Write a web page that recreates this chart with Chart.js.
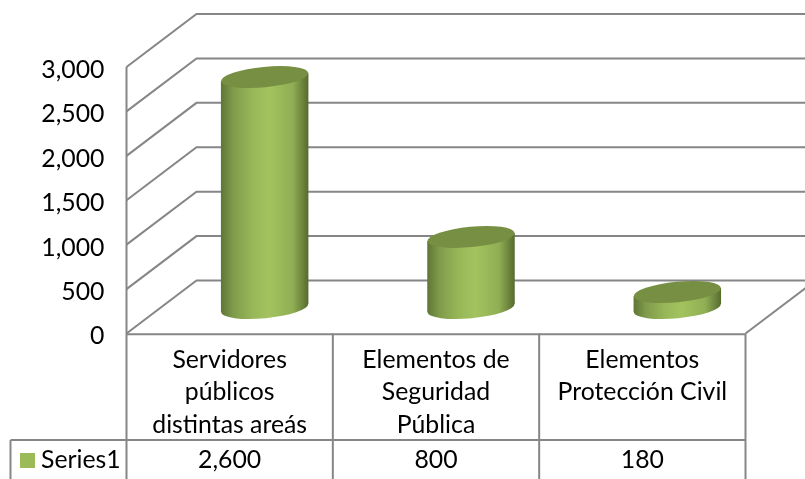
<!DOCTYPE html>
<html><head><meta charset="utf-8">
<style>html,body{margin:0;padding:0;background:#fff}canvas{display:block}</style>
<script src="https://cdn.jsdelivr.net/npm/chart.js@4"></script>
</head><body>
<canvas id="c" width="805" height="479"></canvas>
<script>
const categories = [["Servidores","públicos","distintas areás"],["Elementos de","Seguridad","Pública"],["Elementos","Protección Civil"]];
const seriesName = "Series1";
const seriesValues = [2600, 800, 180];
const yMax = 3000, yStep = 500;

const GRID = "#868686", FONT = "Lato, Carlito, sans-serif", FS = 24.8;
const DX = 70, DY = -53;           // wall depth offset
const CX = 35, CY = -25.5;         // cylinder placement inside the floor depth
const fmt = v => v.toLocaleString("en-US");

const walls = {
  id: "walls",
  beforeDatasetsDraw(ch) {
    const c = ch.ctx, y = ch.scales.y, a = ch.chartArea;
    c.save();
    c.strokeStyle = GRID; c.lineWidth = 2; c.lineJoin = "miter";
    y.ticks.forEach(t => {
      const py = y.getPixelForValue(t.value);
      c.beginPath();
      c.moveTo(a.left, py); c.lineTo(a.left + DX, py + DY); c.lineTo(ch.width + 20, py + DY);
      c.stroke();
    });
    const by = y.getPixelForValue(0);
    c.beginPath(); c.moveTo(a.right, by); c.lineTo(a.right + DX, by + DY); c.stroke();
    c.restore();
  }
};

const cylinders = {
  id: "cylinders",
  beforeDatasetDraw(ch, args) {
    const c = ch.ctx, bars = ch.getDatasetMeta(args.index).data;
    const rot = -5.5 * Math.PI / 180, ry = 10.2, tilt = 4;
    bars.forEach(b => {
      const rx = b.width / 2, cx = b.x + CX, top = b.y + CY, bot = b.base + CY;
      const g = c.createLinearGradient(cx - rx, 0, cx + rx, 0);
      g.addColorStop(0, "#5f7635"); g.addColorStop(0.14, "#7f9b4b");
      g.addColorStop(0.35, "#97b657"); g.addColorStop(0.55, "#a3c35f");
      g.addColorStop(0.82, "#90ae54"); g.addColorStop(1, "#566b2e");
      c.save();
      c.fillStyle = g;
      c.beginPath();
      c.moveTo(cx - rx, top + tilt); c.lineTo(cx + rx, top - tilt);
      c.lineTo(cx + rx, bot - tilt); c.lineTo(cx - rx, bot + tilt);
      c.closePath();
      c.fill();
      c.beginPath(); c.ellipse(cx, bot, rx, ry, rot, 0, Math.PI * 2); c.fill();
      c.fillStyle = "#768f42";
      c.beginPath(); c.ellipse(cx, top, rx, ry, rot, 0, Math.PI * 2); c.fill();
      c.restore();
    });
    return false;
  }
};

const dataTable = {
  id: "dataTable",
  afterDraw(ch) {
    const c = ch.ctx, x = ch.scales.x, a = ch.chartArea, H = ch.height;
    const rowY = 440, left = 10.5, n = categories.length;
    const w = (a.right - a.left) / n;
    c.save();
    c.strokeStyle = GRID; c.lineWidth = 2;
    const line = (x0, y0, x1, y1) => { c.beginPath(); c.moveTo(x0, y0); c.lineTo(x1, y1); c.stroke(); };
    line(a.left, a.bottom + 0.8, a.right, a.bottom + 0.8);
    line(left, rowY, a.right, rowY);
    line(left, rowY, left, H);
    for (let i = 0; i <= n; i++) line(a.left + i * w, i ? a.bottom : a.top, a.left + i * w, H);
    c.fillStyle = "#000"; c.font = FS + "px " + FONT; c.textBaseline = "middle"; c.textAlign = "center";
    seriesValues.forEach((v, i) => c.fillText(fmt(v), x.getPixelForValue(i), 460));
    c.textAlign = "left"; c.fillText(seriesName, 41, 460);
    c.fillStyle = ch.data.datasets[0].backgroundColor;
    c.fillRect(20, 453, 15, 15);
    c.restore();
  }
};

new Chart(document.getElementById("c"), {
  type: "bar",
  data: { labels: categories, datasets: [{ label: seriesName, data: seriesValues, backgroundColor: "#9BBB59", categoryPercentage: 1, barPercentage: 0.424 }] },
  plugins: [walls, cylinders, dataTable],
  options: {
    responsive: false, animation: false,
    layout: { autoPadding: false, padding: { top: 67, right: 59.5, left: 0, bottom: 0 } },
    plugins: { legend: { display: false }, tooltip: { enabled: false }, title: { display: false } },
    scales: {
      x: {
        grid: { display: false }, border: { display: false },
        afterFit(s) { s.height = 145.5; },
        ticks: { color: "#000", font: { family: FONT, size: FS, lineHeight: 1.31 }, padding: 2, maxRotation: 0, minRotation: 0, autoSkip: false }
      },
      y: {
        min: 0, max: yMax,
        grid: { display: false }, border: { display: false },
        afterFit(s) {
          s.width = 126.5;
          if (!s._shifted) {
            const draw = s.drawLabels;
            s.drawLabels = function (area) { this.ctx.save(); this.ctx.translate(0, 3); draw.call(this, area); this.ctx.restore(); };
            s._shifted = true;
          }
        },
        ticks: { stepSize: yStep, color: "#000", font: { family: FONT, size: FS }, padding: 14, callback: v => fmt(v) }
      }
    }
  }
});
</script>
</body></html>
